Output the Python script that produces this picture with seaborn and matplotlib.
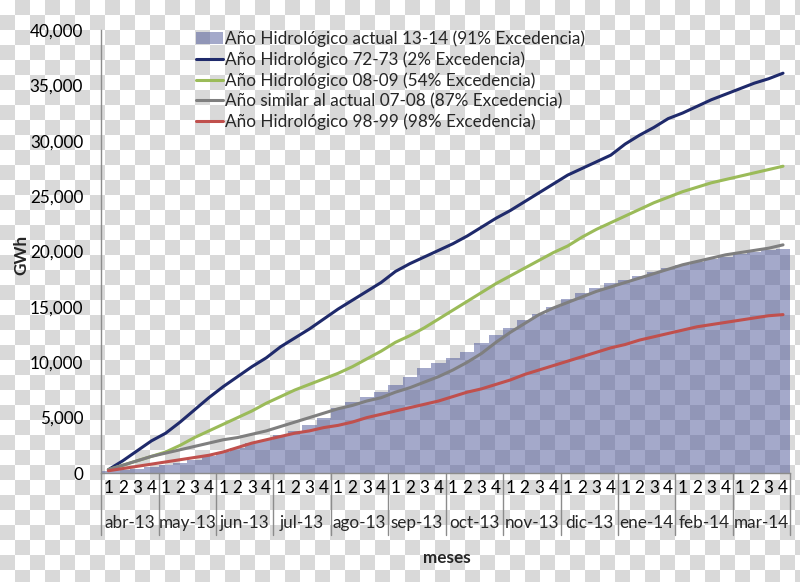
import numpy as np
import matplotlib
matplotlib.use("Agg")
import matplotlib.pyplot as plt
from matplotlib.colors import ListedColormap
import seaborn as sns


# data (GWh acumulados por semana, abr-13 .. mar-14)
months = ["abr-13", "may-13", "jun-13", "jul-13", "ago-13", "sep-13",
          "oct-13", "nov-13", "dic-13", "ene-14", "feb-14", "mar-14"]
week_labels = ["1", "2", "3", "4"] * len(months)
weeks = np.arange(len(week_labels))

actual_13_14 = [150, 250, 400, 550, 700, 900, 1200, 1500, 1900, 2300, 2700, 3000,
                3400, 3800, 4300, 5000, 5900, 6400, 6850, 7300, 7950, 8700, 9500, 9900,
                10400, 10900, 11700, 12450, 13100, 13800, 14400, 15000, 15700, 16250, 16700, 17150,
                17400, 17800, 18150, 18500, 18800, 19050, 19300, 19500, 19750, 19950, 20100, 20200]
hid_72_73 = [300, 1100, 2000, 2900, 3600, 4600, 5700, 6800, 7800, 8700, 9600, 10400,
             11400, 12200, 13000, 13900, 14800, 15600, 16400, 17200, 18200, 18900, 19500, 20100,
             20700, 21400, 22200, 23000, 23700, 24500, 25300, 26100, 26900, 27500, 28100, 28700,
             29700, 30500, 31200, 32000, 32500, 33100, 33700, 34200, 34700, 35200, 35600, 36100]
hid_08_09 = [300, 700, 1100, 1500, 1900, 2500, 3200, 3800, 4400, 5000, 5600, 6300,
             6900, 7500, 8000, 8500, 9000, 9600, 10300, 11000, 11800, 12400, 13100, 13900,
             14700, 15500, 16300, 17100, 17800, 18500, 19200, 19900, 20500, 21300, 22000, 22600,
             23200, 23800, 24400, 24900, 25400, 25800, 26200, 26500, 26800, 27100, 27400, 27700]
similar_07_08 = [300, 700, 1100, 1500, 1800, 2100, 2400, 2700, 3000, 3200, 3500, 3800,
                 4200, 4600, 5000, 5400, 5800, 6100, 6500, 6800, 7300, 7700, 8200, 8700,
                 9300, 10000, 10800, 11800, 12700, 13500, 14300, 14900, 15400, 15900, 16400, 16800,
                 17200, 17600, 18000, 18400, 18800, 19100, 19400, 19700, 19900, 20100, 20300, 20600]
hid_98_99 = [200, 400, 600, 800, 1000, 1200, 1400, 1600, 1900, 2300, 2700, 3000,
             3300, 3600, 3800, 4100, 4300, 4600, 5000, 5300, 5600, 5900, 6200, 6500,
             6900, 7300, 7600, 8000, 8400, 8900, 9300, 9700, 10100, 10500, 10900, 11300,
             11600, 12000, 12300, 12600, 12900, 13200, 13400, 13600, 13800, 14000, 14200, 14300]

series = [
    ("Año Hidrológico 72-73 (2% Excedencia)", hid_72_73, "#1f2a6b"),
    ("Año Hidrológico 08-09 (54% Excedencia)", hid_08_09, "#9bbb59"),
    ("Año similar al actual 07-08 (87% Excedencia)", similar_07_08, "#7f7f7f"),
    ("Año Hidrológico 98-99 (98% Excedencia)", hid_98_99, "#c0504d"),
]


# style
sns.set_theme(style="white")
plt.rcParams["font.family"] = ["Lato", "DejaVu Sans"]
fs = 12.3

fig = plt.figure(figsize=(8, 5.82), dpi=100)

# checkerboard background (as in the original picture)
bg = fig.add_axes([0, 0, 1, 1], zorder=-10)
rows, cols = 39, 54
checker = (np.add.outer(np.arange(rows), np.arange(cols)) % 2)
bg.imshow(checker, cmap=ListedColormap(["white", "#d9d9d9"]), interpolation="nearest",
          extent=(0, cols * 15, rows * 15, 0), aspect="auto")
bg.set_xlim(0, 800)
bg.set_ylim(582, 0)
bg.axis("off")

ax = fig.add_axes([101.2 / 800, 1 - 473 / 582, 689 / 800, 443 / 582])
ax.patch.set_alpha(0)

sns.barplot(x=weeks, y=actual_13_14, color="#4a5596", alpha=0.5, saturation=1,
            width=1.0, linewidth=0, ax=ax, label="Año Hidrológico actual 13-14 (91% Excedencia)")
for p in ax.patches:
    p.set_antialiased(False)
for name, vals, col in series:
    sns.lineplot(x=weeks, y=vals, color=col, linewidth=2.2, label=name, ax=ax)

ax.set_xlim(-0.5, len(weeks) - 0.5)
ax.set_ylim(0, 40000)
ax.set_yticks(range(0, 40001, 5000))
ax.set_yticklabels([f"{v:,}" for v in range(0, 40001, 5000)], fontsize=fs)
ax.set_xticks(weeks)
ax.set_xticklabels(week_labels, fontsize=fs)
ax.tick_params(axis="both", length=0, colors="black")
ax.tick_params(axis="x", pad=5)
ax.tick_params(axis="y", pad=13)
for s in ["top", "right"]:
    ax.spines[s].set_visible(False)
for s in ["left", "bottom"]:
    ax.spines[s].set_color("#8c8c8c")
    ax.spines[s].set_linewidth(1)
ax.set_xlabel("")
ax.set_ylabel("")

# month labels and separators below the axis
trans = ax.get_xaxis_transform()
for m, name in enumerate(months):
    ax.text(4 * m + 1.5, -0.112, name, transform=trans, ha="center", va="center", fontsize=fs)
for m in range(len(months) + 1):
    ax.plot([4 * m - 0.5, 4 * m - 0.5], [0, -0.14], transform=trans, color="#8c8c8c",
            linewidth=1, clip_on=False)

fig.text(447 / 800, 1 - 558 / 582, "meses", ha="center", va="center", fontsize=fs, fontweight="bold")
fig.text(21 / 800, 1 - 255 / 582, "GWh", ha="center", va="center", rotation=90,
         fontsize=fs, fontweight="bold")

# legend: bars first, then the lines
handles, labels = ax.get_legend_handles_labels()
bar_i = labels.index("Año Hidrológico actual 13-14 (91% Excedencia)")
order = [bar_i] + [i for i in range(len(labels)) if i != bar_i]
ax.legend([handles[i] for i in order], [labels[i] for i in order],
          loc="upper left", bbox_to_anchor=(0.137, 0.998), frameon=False, fontsize=fs,
          handlelength=1.6, handletextpad=0.1, labelspacing=0.24, borderpad=0, borderaxespad=0)

fig.savefig("out.png", dpi=100)
